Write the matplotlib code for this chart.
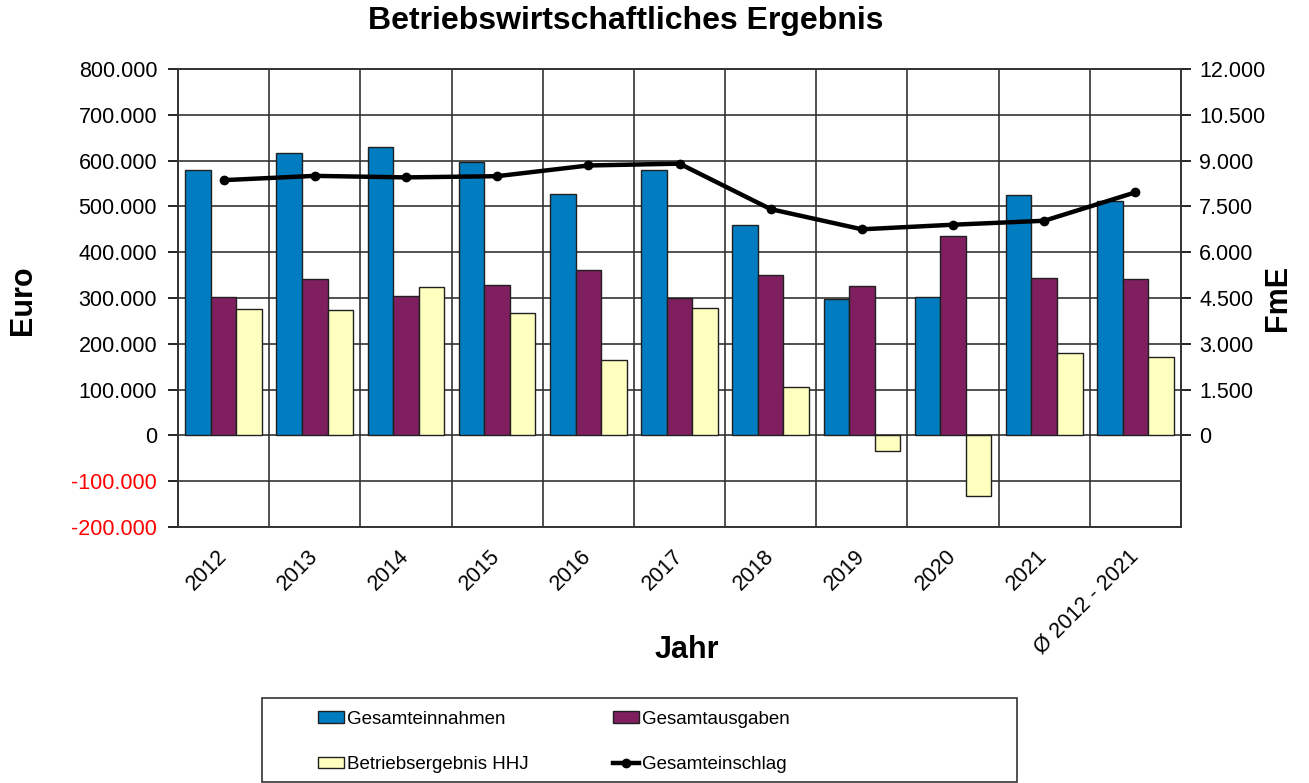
import matplotlib.pyplot as plt
import numpy as np
from matplotlib.ticker import FixedLocator
from matplotlib.patches import Rectangle

plt.rcParams['font.family'] = ['Liberation Sans', 'DejaVu Sans']

# --- Data ---
jahre = ["2012", "2013", "2014", "2015", "2016", "2017", "2018", "2019", "2020", "2021", "Ø 2012 - 2021"]
einnahmen = [579000, 616000, 629000, 597000, 528000, 579000, 460000, 297000, 302000, 525000, 511000]
ausgaben = [302000, 341000, 305000, 329000, 361000, 299000, 350000, 326000, 436000, 344000, 341000]
ergebnis = [276000, 273000, 323000, 267000, 165000, 278000, 106000, -33000, -133000, 180000, 172000]
einschlag = [8360, 8500, 8450, 8490, 8840, 8900, 7410, 6750, 6900, 7030, 7960]

left_ticks = [800000, 700000, 600000, 500000, 400000, 300000, 200000, 100000, 0, -100000, -200000]
right_ticks = [12000, 10500, 9000, 7500, 6000, 4500, 3000, 1500, 0]

c_blue = "#007DC0"
c_purple = "#7F1F5F"
c_yellow = "#FFFFC0"


def fmt(v):
    return f"{v:,}".replace(",", ".")


fig = plt.figure(figsize=(13.09, 7.83), dpi=100)
ax = fig.add_axes([178 / 1309, 1 - 527 / 783, 1003 / 1309, 458 / 783])
ax2 = ax.twinx()

x = np.arange(len(jahre))
w = 0.28
ax.bar(x - w, einnahmen, w, color=c_blue, edgecolor="#202020", linewidth=1, label="Gesamteinnahmen", zorder=3)
ax.bar(x, ausgaben, w, color=c_purple, edgecolor="#202020", linewidth=1, label="Gesamtausgaben", zorder=3)
ax.bar(x + w, ergebnis, w, color=c_yellow, edgecolor="#202020", linewidth=1, label="Betriebsergebnis HHJ", zorder=3)

ax2.plot(x, einschlag, color="black", lw=3.2, marker="o", ms=6, label="Gesamteinschlag", zorder=4)

ax.set_xlim(-0.5, len(jahre) - 0.5)
ax.set_ylim(-200000, 800000)
ax2.set_ylim(-3000, 12000)

# grid
ax.set_yticks(left_ticks)
ax.set_yticklabels([fmt(v) for v in left_ticks], fontsize=15.5)
for lbl, v in zip(ax.get_yticklabels(), left_ticks):
    if v < 0:
        lbl.set_color("red")
ax.yaxis.grid(True, color="#333333", lw=1.2, zorder=0)
ax.xaxis.set_minor_locator(FixedLocator(np.arange(-0.5, len(jahre), 1.0)))
ax.xaxis.grid(True, which="minor", color="#333333", lw=1.2, zorder=0)
ax.set_xticks(x)
ax.set_xticklabels(jahre, rotation=45, ha="right", va="center", rotation_mode="anchor", fontsize=15.5)
ax.tick_params(axis="x", which="both", length=0, pad=19)
ax.tick_params(axis="y", length=7, width=1.2, pad=8)

ax2.set_yticks(right_ticks)
ax2.set_yticklabels([fmt(v) for v in right_ticks], fontsize=15.5)
ax2.tick_params(axis="y", length=7, width=1.2, pad=6)

for a in (ax, ax2):
    for s in a.spines.values():
        s.set_color("#333333")
        s.set_linewidth(1.2)

fig.text(23 / 1309, 1 - 300 / 783, "Euro", fontsize=22, fontweight="bold", rotation=90, ha="center", va="center")
fig.text(1278 / 1309, 1 - 298 / 783, "FmE", fontsize=22, fontweight="bold", rotation=90, ha="center", va="center")
fig.text(687 / 1309, 1 - 650 / 783, "Jahr", fontsize=22, fontweight="bold", ha="center", va="center")
fig.text(626 / 1309, 1 - 21 / 783, "Betriebswirtschaftliches Ergebnis", fontsize=23, fontweight="bold",
         ha="center", va="center")

# legend box
fig.patches.append(Rectangle((262 / 1309, 1 - 782 / 783), 755 / 1309, 84 / 783, transform=fig.transFigure,
                             facecolor="white", edgecolor="#333333", linewidth=1.2, zorder=0))
h1, l1 = ax.get_legend_handles_labels()
h2, l2 = ax2.get_legend_handles_labels()
handles = [h1[0], h1[2], h1[1], h2[0]]
labels = [l1[0], l1[2], l1[1], l2[0]]
leg = fig.legend(handles, labels, ncol=2, loc="upper left",
                 bbox_to_anchor=(318 / 1309, 1 - 711 / 783),
                 frameon=False, borderpad=0, borderaxespad=0,
                 handlelength=1.4, handleheight=0.6, handletextpad=0.15, columnspacing=4.5,
                 labelspacing=1.5, prop={"size": 13.5})

fig.savefig("out.png", dpi=100)
